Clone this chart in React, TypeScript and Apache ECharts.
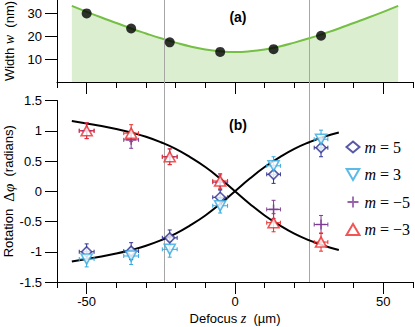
import React, { useEffect, useRef } from "react";
import * as echarts from "echarts";

// ---- data ----
const zFit = [-55, -50, -45, -40, -35, -30, -25, -20, -15, -10, -5, 0, 5, 10, 15, 20, 25, 30, 35, 40, 45, 50, 55];
const widthFit = [33.4, 30.8, 28.3, 25.9, 23.5, 21.3, 19.2, 17.3, 15.6, 14.3, 13.5, 13.2, 13.5, 14.3, 15.6, 17.3, 19.2, 21.3, 23.5, 25.9, 28.3, 30.8, 33.4];
const zMeas = [-50, -35, -22, -5, 13, 29];
const widthMeas = [30.1, 23.5, 17.4, 13.2, 14.4, 20.3];

const zPhase = [-55, -50, -45, -40, -35, -30, -25, -20, -15, -10, -5, 0, 5, 10, 15, 20, 25, 30, 35];
const phaseFitDown = [1.16, 1.12, 1.08, 1.03, 0.97, 0.9, 0.81, 0.7, 0.56, 0.4, 0.21, 0.0, -0.21, -0.4, -0.56, -0.7, -0.81, -0.9, -0.97];
const phaseFitUp = [-1.16, -1.12, -1.08, -1.03, -0.97, -0.9, -0.81, -0.7, -0.56, -0.4, -0.21, 0.0, 0.21, 0.4, 0.56, 0.7, 0.81, 0.9, 0.97];

const phaseM5 = [-1.0, -0.99, -0.77, -0.1, 0.28, 0.72];
const phaseM3 = [-1.12, -1.07, -0.96, -0.24, 0.42, 0.86];
const phaseMm5 = [1.0, 0.85, 0.57, 0.15, -0.3, -0.55];
const phaseMm3 = [1.0, 0.96, 0.57, 0.17, -0.52, -0.84];
const xErr = [2.5, 2.5, 2.5, 2.5, 2.3, 2.3];
const yErr = [0.13, 0.14, 0.13, 0.12, 0.15, 0.15];

const rayleighZ = [-23.8, 24.8];
const xTicksMajor = [-50, 0, 50];
const yTicksWidth = [10, 20, 30];

const seriesNames = ["m = 5", "m = 3", "m = \u22125", "m = \u22123"];
const seriesColors = ["#2e3192", "#33a9e0", "#7d3b91", "#ee2b2b"];
const seriesSymbols = [
  "diamond",
  "path://M0,0 L10,0 L5,8.66 Z",
  "path://M4.2,0 L5.8,0 L5.8,4.2 L10,4.2 L10,5.8 L5.8,5.8 L5.8,10 L4.2,10 L4.2,5.8 L0,5.8 L0,4.2 L4.2,4.2 Z",
  "triangle",
];
const seriesData = [phaseM5, phaseM3, phaseMm5, phaseMm3];

const SANS = "Liberation Sans";
const SERIF = "Liberation Serif";

export default function App() {
  const ref = useRef<HTMLDivElement>(null);
  useEffect(() => {
    const chart = echarts.init(ref.current!, null, { renderer: "svg" });
    const axisLineStyle = { color: "#000", width: 1 };
    const labelStyle = { color: "#000", fontFamily: SANS, fontSize: 13 };

    const makeX = (gridIndex: number, long: boolean, labels: boolean, name?: string) => ({
      type: "value",
      gridIndex,
      min: -60,
      max: 60,
      interval: 10,
      position: "bottom",
      axisLine: { show: !long, onZero: false, lineStyle: axisLineStyle },
      splitLine: { show: false },
      axisTick: long
        ? { show: true, inside: false, length: 12, lineStyle: axisLineStyle, customValues: xTicksMajor }
        : { show: true, inside: false, length: 6, lineStyle: axisLineStyle },
      axisLabel: labels
        ? { show: true, margin: 13, ...labelStyle, customValues: xTicksMajor }
        : { show: false },
      name: name,
      nameLocation: "middle",
      nameGap: 29,
      nameMoveOverlap: false,
      nameTextStyle: {
        color: "#000",
        fontFamily: SANS,
        fontSize: 13,
        rich: {
          t: { fontFamily: SANS, fontSize: 13, color: "#000" },
          i: { fontFamily: SERIF, fontStyle: "italic", fontSize: 14, color: "#000" },
        },
      },
    });

    const errSeries = (idx: number) => ({
      type: "custom",
      name: seriesNames[idx] + " err",
      xAxisIndex: 2,
      yAxisIndex: 1,
      z: 4,
      silent: true,
      data: zMeas.map((z, i) => [z, seriesData[idx][i], xErr[i], yErr[i]]),
      encode: { x: 0, y: 1 },
      renderItem: (params: any, api: any) => {
        const x = api.value(0);
        const y = api.value(1);
        const ex = api.value(2);
        const ey = api.value(3);
        const c = api.coord([x, y]);
        const t = api.coord([x, y + ey]);
        const b = api.coord([x, y - ey]);
        const l = api.coord([x - ex, y]);
        const r = api.coord([x + ex, y]);
        const cap = 2;
        const style = { stroke: seriesColors[idx], lineWidth: 1 };
        return {
          type: "group",
          children: [
            { type: "line", shape: { x1: c[0], y1: t[1], x2: c[0], y2: b[1] }, style },
            { type: "line", shape: { x1: l[0], y1: c[1], x2: r[0], y2: c[1] }, style },
            { type: "line", shape: { x1: c[0] - cap, y1: t[1], x2: c[0] + cap, y2: t[1] }, style },
            { type: "line", shape: { x1: c[0] - cap, y1: b[1], x2: c[0] + cap, y2: b[1] }, style },
            { type: "line", shape: { x1: l[0], y1: c[1] - cap, x2: l[0], y2: c[1] + cap }, style },
            { type: "line", shape: { x1: r[0], y1: c[1] - cap, x2: r[0], y2: c[1] + cap }, style },
          ],
        };
      },
    });

    const scatterSeries = (idx: number) => {
      const filled = idx === 2;
      return {
        type: "scatter",
        name: seriesNames[idx],
        xAxisIndex: 2,
        yAxisIndex: 1,
        z: 5,
        symbol: seriesSymbols[idx],
        symbolSize: idx === 2 ? 10 : idx === 0 ? 10 : [11, 10],
        itemStyle: filled
          ? { color: seriesColors[idx] }
          : { color: "#fff", borderColor: seriesColors[idx], borderWidth: 1.6 },
        data: zMeas.map((z, i) => [z, seriesData[idx][i]]),
      };
    };

    const option: any = {
      animation: false,
      backgroundColor: "#fff",
      grid: [
        { left: 57, right: 2, top: 0, height: 82, containLabel: false, outerBoundsMode: "none" },
        { left: 57, right: 2, top: 100.5, height: 181.5, containLabel: false, outerBoundsMode: "none" },
      ],
      xAxis: [
        makeX(0, false, false),
        makeX(0, true, false),
        makeX(1, false, false),
        makeX(1, true, true, "{t|Defocus }{i|z}{t|  (\u00b5m)}"),
      ],
      yAxis: [
        {
          type: "value",
          gridIndex: 0,
          min: 0,
          max: 36,
          interval: 10,
          position: "left",
          axisLine: { show: true, onZero: false, lineStyle: axisLineStyle },
          splitLine: { show: false },
          axisTick: { show: true, length: 12, lineStyle: axisLineStyle, customValues: yTicksWidth },
          axisLabel: { show: true, margin: 15, ...labelStyle, customValues: yTicksWidth },
          name: "{t|Width }{i|w}{t|  (nm)}",
          nameLocation: "middle",
          nameGap: 41,
          nameMoveOverlap: false,
          nameTextStyle: {
            rich: {
              t: { fontFamily: SANS, fontSize: 13, color: "#000" },
              i: { fontFamily: SERIF, fontStyle: "italic", fontSize: 14, color: "#000" },
            },
          },
        },
        {
          type: "value",
          gridIndex: 1,
          min: -1.5,
          max: 1.5,
          interval: 0.5,
          position: "left",
          axisLine: { show: true, onZero: false, lineStyle: axisLineStyle },
          splitLine: { show: false },
          axisTick: { show: true, length: 12, lineStyle: axisLineStyle },
          axisLabel: { show: true, margin: 15, ...labelStyle },
          name: "{t|Rotation  }{s|\u0394}{i|\u03c6}{t|  (radians)}",
          nameLocation: "middle",
          nameGap: 41,
          nameMoveOverlap: false,
          nameTextStyle: {
            rich: {
              t: { fontFamily: SANS, fontSize: 13, color: "#000" },
              s: { fontFamily: SERIF, fontSize: 15, color: "#000" },
              i: { fontFamily: SERIF, fontStyle: "italic", fontSize: 15, color: "#000" },
            },
          },
        },
      ],
      legend: {
        data: seriesNames,
        orient: "vertical",
        left: 340.5,
        top: 134,
        itemWidth: 13,
        itemHeight: 11,
        itemGap: 11.5,
        selectedMode: false,
        formatter: (name: string) => "{i|m}{r|" + name.slice(1) + "}",
        textStyle: {
          color: "#000",
          fontFamily: SERIF,
          fontSize: 16,
          lineHeight: 16,
          rich: {
            i: { fontFamily: SERIF, fontStyle: "italic", fontSize: 16, lineHeight: 16, color: "#000" },
            r: { fontFamily: SERIF, fontSize: 16, lineHeight: 16, color: "#000" },
          },
        },
      },
      series: [
        {
          type: "line",
          name: "width fit",
          xAxisIndex: 0,
          yAxisIndex: 0,
          smooth: true,
          showSymbol: false,
          symbol: "none",
          z: 2,
          lineStyle: { color: "#74bf44", width: 2 },
          areaStyle: { color: "#dbeed0", opacity: 1 },
          data: zFit.map((z, i) => [z, widthFit[i]]),
        },
        {
          type: "scatter",
          name: "width",
          xAxisIndex: 0,
          yAxisIndex: 0,
          z: 5,
          symbolSize: 10,
          itemStyle: { color: "#000" },
          data: zMeas.map((z, i) => [z, widthMeas[i]]),
        },
        {
          type: "line",
          name: "fit down",
          xAxisIndex: 2,
          yAxisIndex: 1,
          smooth: true,
          symbol: "none",
          z: 3,
          lineStyle: { color: "#000", width: 2 },
          data: zPhase.map((z, i) => [z, phaseFitDown[i]]),
        },
        {
          type: "line",
          name: "fit up",
          xAxisIndex: 2,
          yAxisIndex: 1,
          smooth: true,
          symbol: "none",
          z: 3,
          lineStyle: { color: "#000", width: 2 },
          data: zPhase.map((z, i) => [z, phaseFitUp[i]]),
        },
        errSeries(0),
        scatterSeries(0),
        errSeries(1),
        scatterSeries(1),
        errSeries(2),
        scatterSeries(2),
        errSeries(3),
        scatterSeries(3),
      ],
    };
    chart.setOption(option);

    const yTop = chart.convertToPixel({ yAxisIndex: 0 } as any, 36) as number;
    const yBot = chart.convertToPixel({ yAxisIndex: 1 } as any, -1.5) as number;
    const lines = rayleighZ.map((z) => {
      const x = Math.round(chart.convertToPixel({ xAxisIndex: 0 } as any, z) as number) + 0.5;
      return {
        type: "line",
        z: 3,
        silent: true,
        shape: { x1: x, y1: yTop, x2: x, y2: yBot },
        style: { stroke: "#a6a6a6", lineWidth: 1 },
      };
    });
    const xMid = chart.convertToPixel({ xAxisIndex: 0 } as any, 1) as number;
    chart.setOption({
      graphic: [
        ...lines,
        {
          type: "text",
          x: xMid,
          y: 17,
          z: 6,
          style: { text: "(a)", fontFamily: SANS, fontWeight: "bold", fontSize: 14, fill: "#000", align: "center", verticalAlign: "middle" },
        },
        {
          type: "text",
          x: xMid,
          y: 125,
          z: 6,
          style: { text: "(b)", fontFamily: SANS, fontWeight: "bold", fontSize: 14, fill: "#000", align: "center", verticalAlign: "middle" },
        },
      ],
    });
    return () => chart.dispose();
  }, []);
  return <div ref={ref} style={{ position: "fixed", left: 0, top: 0, width: 415, height: 327 }} />;
}
